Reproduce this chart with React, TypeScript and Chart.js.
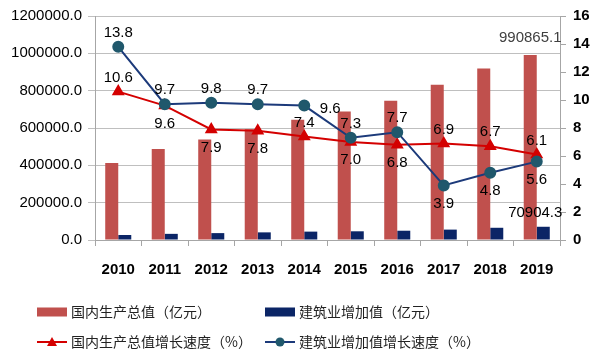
import React, { useEffect, useRef } from "react";
import { Chart, registerables } from "chart.js";

Chart.register(...registerables);

const years = ["2010", "2011", "2012", "2013", "2014", "2015", "2016", "2017", "2018", "2019"];
const gdpValues = [412119.3, 487940.2, 538580.0, 592963.2, 643563.1, 688858.2, 746395.1, 832035.9, 919281.1, 990865.1];
const constructionValues = [26660.7, 32926.5, 36896.1, 40896.8, 44880.5, 46626.7, 49702.9, 55689.0, 65493.0, 70904.3];
const gdpGrowth = [10.6, 9.6, 7.9, 7.8, 7.4, 7.0, 6.8, 6.9, 6.7, 6.1];
const constructionGrowth = [13.8, 9.7, 9.8, 9.7, 9.6, 7.3, 7.7, 3.9, 4.8, 5.6];

const leftTicks = [0, 200000, 400000, 600000, 800000, 1000000, 1200000];
const rightTicks = [0, 2, 4, 6, 8, 10, 12, 14, 16];

const gdpGrowthLabelPos = ["above", "below", "below", "below", "above", "below", "below", "above", "above", "above"];
const constructionGrowthLabelPos = ["above", "above", "above", "above", "right", "above", "above", "below", "below", "below"];

const legendLabels = ["国内生产总值（亿元）", "建筑业增加值（亿元）", "国内生产总值增长速度（%）", "建筑业增加值增长速度（%）"];

const RED_BAR = "#C0504D";
const NAVY_BAR = "#0B2566";
const RED_LINE = "#D40000";
const NAVY_LINE = "#1C3A7A";
const TEAL_POINT = "#20586C";
const FONT = '"Liberation Sans", Arial, sans-serif';
const CJK = '"Noto Sans CJK SC", sans-serif';

const labelPlugin = {
  id: "customLabels",
  afterDatasetsDraw(chart: any) {
    const ctx = chart.ctx;
    ctx.save();
    ctx.textAlign = "center";
    ctx.textBaseline = "middle";
    ctx.font = `15px ${FONT}`;
    const drawLine = (dsIndex: number, values: number[], pos: string[]) => {
      const meta = chart.getDatasetMeta(dsIndex);
      meta.data.forEach((pt: any, i: number) => {
        let x = pt.x;
        let y = pt.y;
        if (pos[i] === "above") y -= 14;
        else if (pos[i] === "below") y += 18;
        else if (pos[i] === "right") {
          x += 26;
          y += 3;
        }
        ctx.fillStyle = "#000";
        ctx.fillText(values[i].toFixed(1), x, y);
      });
    };
    drawLine(0, constructionGrowth, constructionGrowthLabelPos);
    drawLine(1, gdpGrowth, gdpGrowthLabelPos);
    const last = years.length - 1;
    const gdpBar: any = chart.getDatasetMeta(2).data[last];
    ctx.fillStyle = "#404040";
    ctx.fillText(gdpValues[last].toFixed(1), gdpBar.x, gdpBar.y - 17);
    const cBar: any = chart.getDatasetMeta(3).data[last];
    ctx.fillStyle = "#000";
    ctx.fillText(constructionValues[last].toFixed(1), cBar.x - 8, cBar.y - 14);
    ctx.restore();
  },
  afterDraw(chart: any) {
    const ctx = chart.ctx;
    ctx.save();
    ctx.font = `14px ${CJK}`;
    ctx.textBaseline = "middle";
    ctx.textAlign = "left";
    const r1 = 312;
    const r2 = 342;
    ctx.fillStyle = RED_BAR;
    ctx.fillRect(37, r1 - 4.5, 30, 9);
    ctx.fillStyle = "#222";
    ctx.fillText(legendLabels[0], 71, r1);
    ctx.fillStyle = NAVY_BAR;
    ctx.fillRect(265, r1 - 4.5, 30, 9);
    ctx.fillStyle = "#222";
    ctx.fillText(legendLabels[1], 299, r1);
    ctx.strokeStyle = RED_LINE;
    ctx.lineWidth = 2;
    ctx.beginPath();
    ctx.moveTo(37, r2);
    ctx.lineTo(67, r2);
    ctx.stroke();
    ctx.fillStyle = RED_LINE;
    ctx.beginPath();
    ctx.moveTo(52, r2 - 5);
    ctx.lineTo(57, r2 + 4);
    ctx.lineTo(47, r2 + 4);
    ctx.closePath();
    ctx.fill();
    ctx.fillStyle = "#222";
    ctx.fillText(legendLabels[2], 71, r2);
    ctx.strokeStyle = NAVY_LINE;
    ctx.beginPath();
    ctx.moveTo(265, r2);
    ctx.lineTo(295, r2);
    ctx.stroke();
    ctx.fillStyle = TEAL_POINT;
    ctx.beginPath();
    ctx.arc(280, r2, 4.5, 0, Math.PI * 2);
    ctx.fill();
    ctx.fillStyle = "#222";
    ctx.fillText(legendLabels[3], 299, r2);
    ctx.restore();
  },
};

export default function App() {
  const ref = useRef<HTMLCanvasElement | null>(null);
  useEffect(() => {
    if (!ref.current) return;
    const chart = new Chart(ref.current, {
      type: "bar",
      data: {
        labels: years,
        datasets: [
          {
            type: "line",
            label: legendLabels[3],
            data: constructionGrowth,
            yAxisID: "y1",
            borderColor: NAVY_LINE,
            borderWidth: 2,
            pointStyle: "circle",
            pointRadius: 5,
            pointBackgroundColor: TEAL_POINT,
            pointBorderColor: TEAL_POINT,
            tension: 0,
            order: 0,
          } as any,
          {
            type: "line",
            label: legendLabels[2],
            data: gdpGrowth,
            yAxisID: "y1",
            borderColor: RED_LINE,
            borderWidth: 2,
            pointStyle: "triangle",
            pointRadius: 5.5,
            pointBackgroundColor: RED_LINE,
            pointBorderColor: RED_LINE,
            tension: 0,
            order: 1,
          } as any,
          {
            type: "bar",
            label: legendLabels[0],
            data: gdpValues,
            yAxisID: "y",
            backgroundColor: RED_BAR,
            barPercentage: 1,
            categoryPercentage: 0.56,
            order: 2,
          },
          {
            type: "bar",
            label: legendLabels[1],
            data: constructionValues,
            yAxisID: "y",
            backgroundColor: NAVY_BAR,
            barPercentage: 1,
            categoryPercentage: 0.56,
            order: 3,
          },
        ],
      },
      options: {
        responsive: false,
        animation: false,
        layout: { padding: { top: 12, bottom: 68, left: 0, right: 0 } },
        plugins: { legend: { display: false }, tooltip: { enabled: false } },
        scales: {
          x: {
            grid: { offset: true, drawOnChartArea: false, drawTicks: true, tickLength: 6, color: "#A6A6A6" },
            border: { color: "#A6A6A6" },
            ticks: { font: { family: FONT, size: 15, weight: "bold" }, color: "#000", padding: 15, maxRotation: 0 },
            afterFit: (s: any) => {
              s.height = 45;
            },
          },
          y: {
            position: "left",
            min: 0,
            max: leftTicks[leftTicks.length - 1],
            afterBuildTicks: (s: any) => {
              s.ticks = leftTicks.map((v) => ({ value: v }));
            },
            grid: { color: "#BFBFBF", tickLength: 7 },
            border: { color: "#A6A6A6" },
            ticks: {
              font: { family: FONT, size: 15 },
              color: "#000",
              padding: 6,
              callback: (v: any) => Number(v).toFixed(1),
            },
            afterFit: (s: any) => {
              s.width = 95;
            },
          },
          y1: {
            position: "right",
            min: 0,
            max: rightTicks[rightTicks.length - 1],
            afterBuildTicks: (s: any) => {
              s.ticks = rightTicks.map((v) => ({ value: v }));
            },
            grid: { drawOnChartArea: false, tickLength: 6, color: "#A6A6A6" },
            border: { color: "#A6A6A6" },
            ticks: { font: { family: FONT, size: 15, weight: "bold" }, color: "#000", padding: 7 },
            afterFit: (s: any) => {
              s.width = 40;
            },
          },
        },
      },
      plugins: [labelPlugin],
    });
    return () => chart.destroy();
  }, []);
  return (
    <div style={{ position: "absolute", left: 0, top: 0, width: 600, height: 353, background: "#fff" }}>
      <canvas ref={ref} width={600} height={353} style={{ display: "block" }} />
    </div>
  );
}
